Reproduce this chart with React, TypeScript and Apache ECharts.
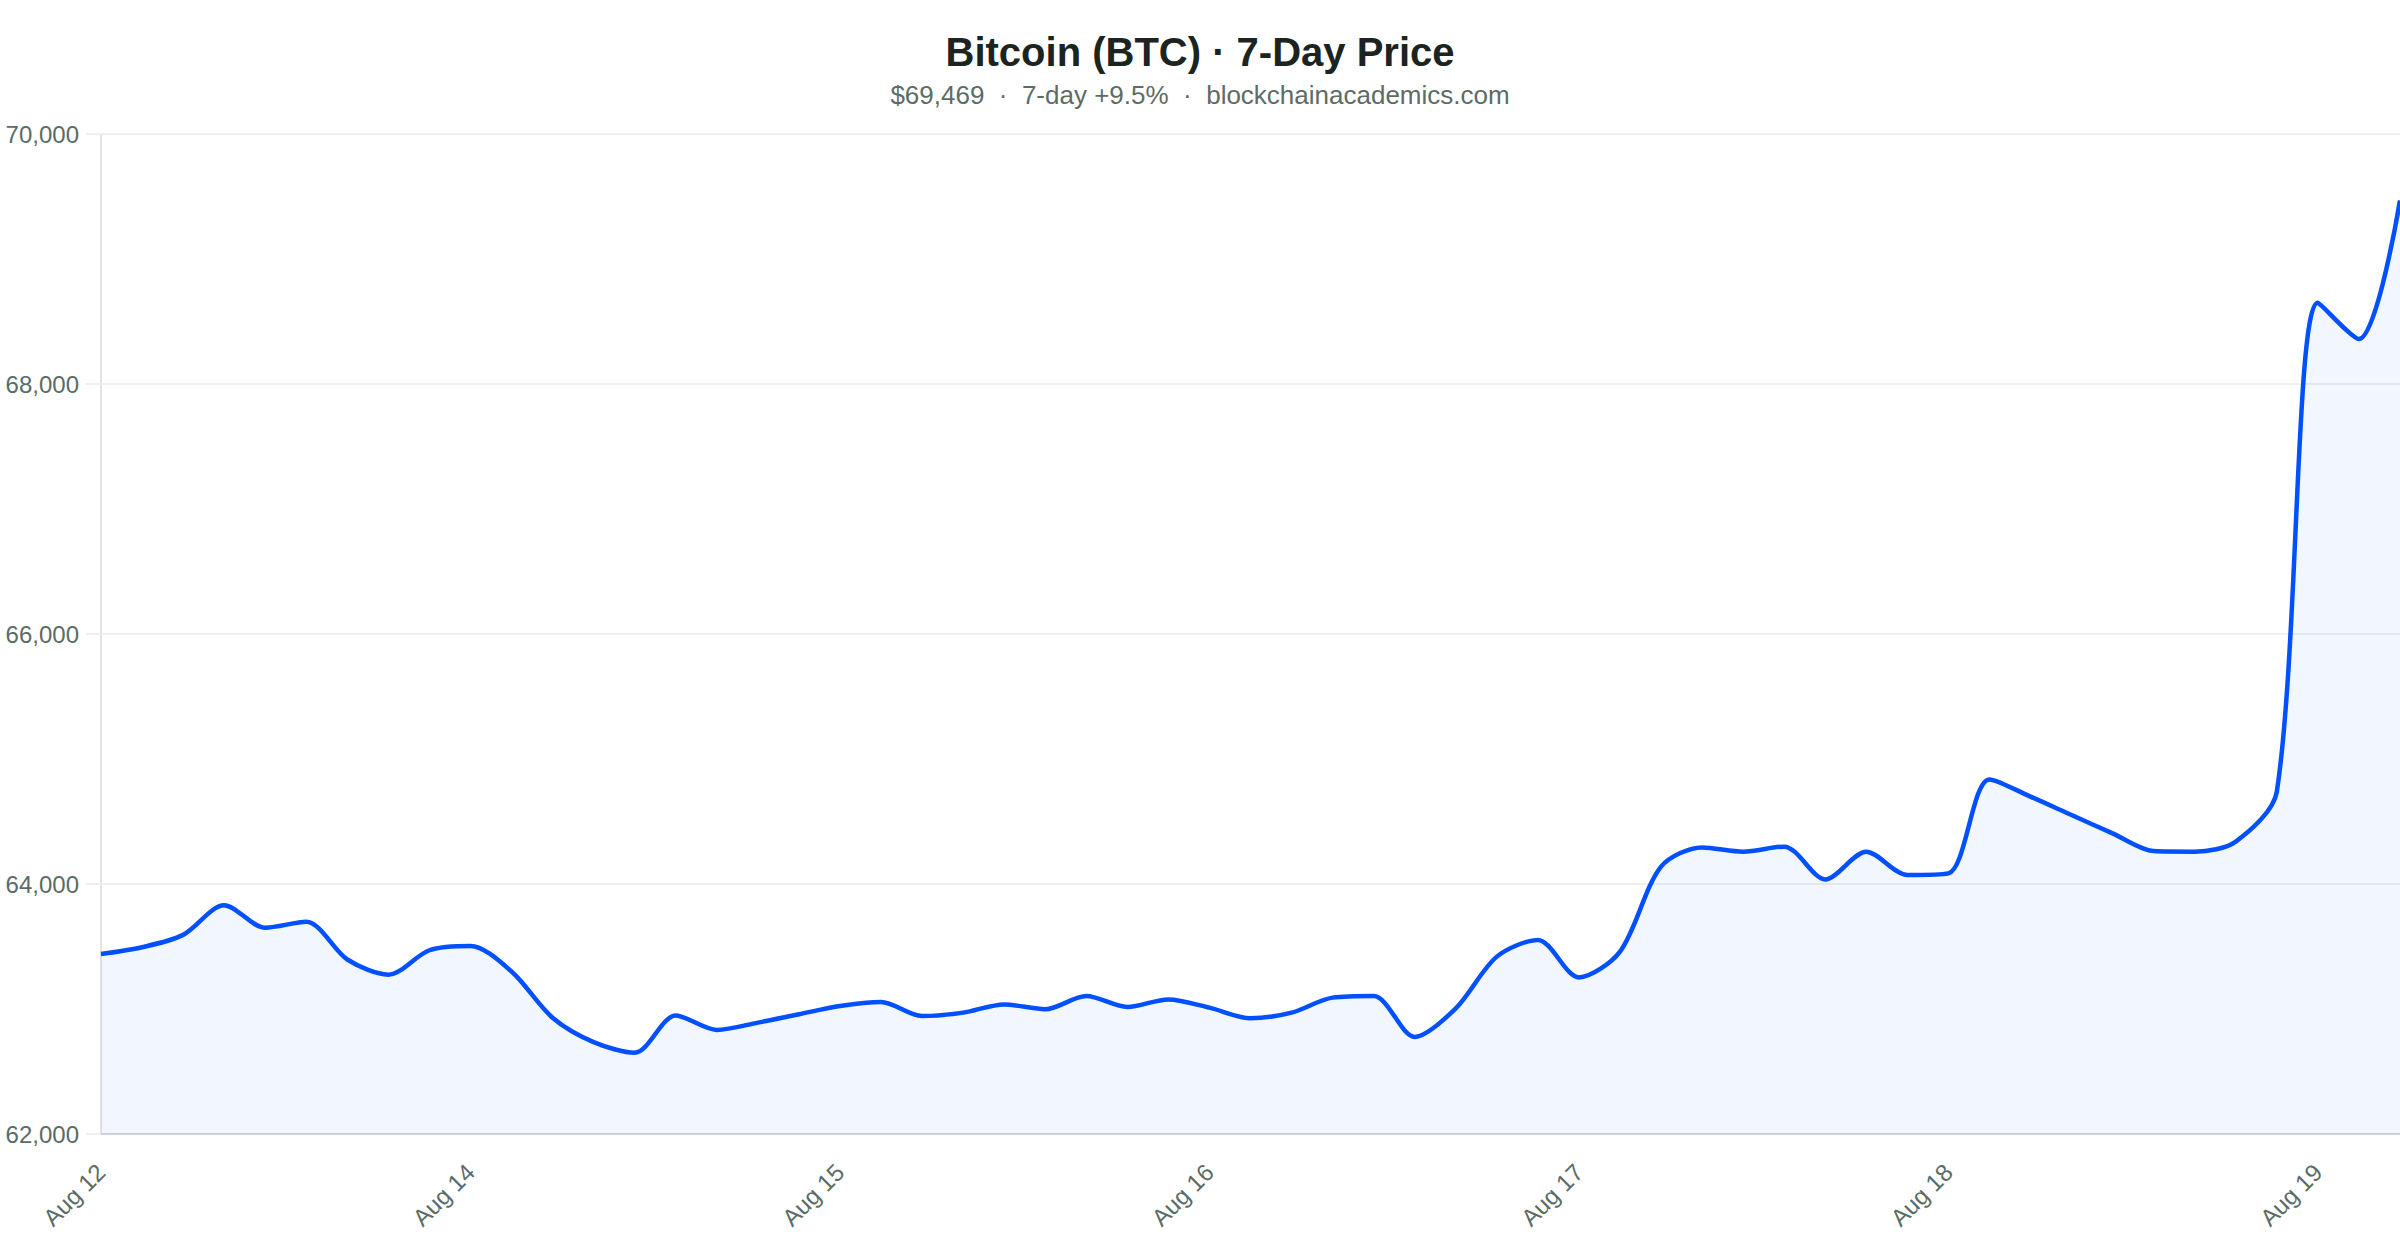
import React, { useEffect, useRef } from "react";
import * as echarts from "echarts";

const categories: string[] = [
  "Aug 12 22:00",
  "Aug 13 01:00", "Aug 13 04:00", "Aug 13 07:00", "Aug 13 10:00", "Aug 13 13:00", "Aug 13 16:00", "Aug 13 19:00", "Aug 13 22:00",
  "Aug 14 01:00", "Aug 14 04:00", "Aug 14 07:00", "Aug 14 10:00", "Aug 14 13:00", "Aug 14 16:00", "Aug 14 19:00", "Aug 14 22:00",
  "Aug 15 01:00", "Aug 15 04:00", "Aug 15 07:00", "Aug 15 10:00", "Aug 15 13:00", "Aug 15 16:00", "Aug 15 19:00", "Aug 15 22:00",
  "Aug 16 01:00", "Aug 16 04:00", "Aug 16 07:00", "Aug 16 10:00", "Aug 16 13:00", "Aug 16 16:00", "Aug 16 19:00", "Aug 16 22:00",
  "Aug 17 01:00", "Aug 17 04:00", "Aug 17 07:00", "Aug 17 10:00", "Aug 17 13:00", "Aug 17 16:00", "Aug 17 19:00", "Aug 17 22:00",
  "Aug 18 01:00", "Aug 18 04:00", "Aug 18 07:00", "Aug 18 10:00", "Aug 18 13:00", "Aug 18 16:00", "Aug 18 19:00", "Aug 18 22:00",
  "Aug 19 01:00", "Aug 19 04:00", "Aug 19 07:00", "Aug 19 10:00", "Aug 19 13:00", "Aug 19 16:00", "Aug 19 19:00", "Aug 19 22:00",
];

const prices: number[] = [
  63440,
  63494, 63593, 63830, 63650, 63698, 63396, 63275, 63470,
  63504, 63300, 62930, 62735, 62650, 62948, 62833, 62891,
  62958, 63024, 63056, 62944, 62971, 63037, 62998, 63104,
  63016, 63077, 63011, 62926, 62971, 63091, 63104, 62777,
  63005, 63419, 63552, 63253, 63459, 64139, 64293, 64259,
  64299, 64037, 64259, 64072, 64085, 64837, 64699, 64552,
  64405, 64264, 64259, 64339, 64739, 68650, 68360, 69469,
];

const yTicks = { min: 62000, max: 70000, interval: 2000 };

const titleText = "Bitcoin (BTC) · 7-Day Price";
const subtitleText = "$69,469  ·  7-day +9.5%  ·  blockchainacademics.com";

const FONT = "'Liberation Sans', Arial, Helvetica, sans-serif";

export default function App() {
  const ref = useRef<HTMLDivElement>(null);

  useEffect(() => {
    if (!ref.current) return;
    const chart = echarts.init(ref.current, undefined, { renderer: "svg" });
    chart.setOption({
      animation: false,
      backgroundColor: "#ffffff",
      textStyle: { fontFamily: FONT },
      title: {
        text: titleText,
        subtext: subtitleText,
        left: "center",
        top: 23,
        itemGap: 3,
        textStyle: {
          fontFamily: FONT,
          fontSize: 40,
          fontWeight: "bold",
          color: "#1b2420",
          lineHeight: 48,
        },
        subtextStyle: {
          fontFamily: FONT,
          fontSize: 26,
          color: "#5e6b66",
          lineHeight: 32,
        },
      },
      grid: { left: 101, right: 0, top: 134, bottom: 106, containLabel: false },
      xAxis: {
        type: "category",
        data: categories,
        boundaryGap: false,
        axisLine: { show: true, lineStyle: { color: "#cfd4de", width: 2 } },
        axisTick: { show: false },
        splitLine: { show: false },
        axisLabel: {
          interval: 8,
          rotate: 45,
          margin: 34,
          fontSize: 24,
          fontFamily: FONT,
          color: "#5b6b65",
          formatter: (v: string) => v.split(" ").slice(0, 2).join(" "),
        },
      },
      yAxis: {
        type: "value",
        min: yTicks.min,
        max: yTicks.max,
        interval: yTicks.interval,
        axisLine: { show: true, lineStyle: { color: "#e3e3e3", width: 2 } },
        axisTick: { show: true, length: 15, lineStyle: { color: "#efefef", width: 2 } },
        splitLine: { show: true, lineStyle: { color: "#f0f0f0", width: 2 } },
        axisLabel: {
          margin: 22,
          fontSize: 24,
          fontFamily: FONT,
          color: "#5b6b65",
          formatter: (v: number) => v.toLocaleString("en-US"),
        },
      },
      series: [
        {
          type: "line",
          data: prices,
          smooth: 0.3,
          showSymbol: false,
          symbol: "none",
          lineStyle: { color: "#0050ff", width: 4.5 },
          itemStyle: { color: "#0050ff" },
          areaStyle: { color: "rgba(0, 80, 255, 0.075)" },
        },
      ],
    });
    return () => chart.dispose();
  }, []);

  return (
    <div
      ref={ref}
      style={{ position: "fixed", left: 0, top: 0, width: 2400, height: 1240 }}
    />
  );
}
